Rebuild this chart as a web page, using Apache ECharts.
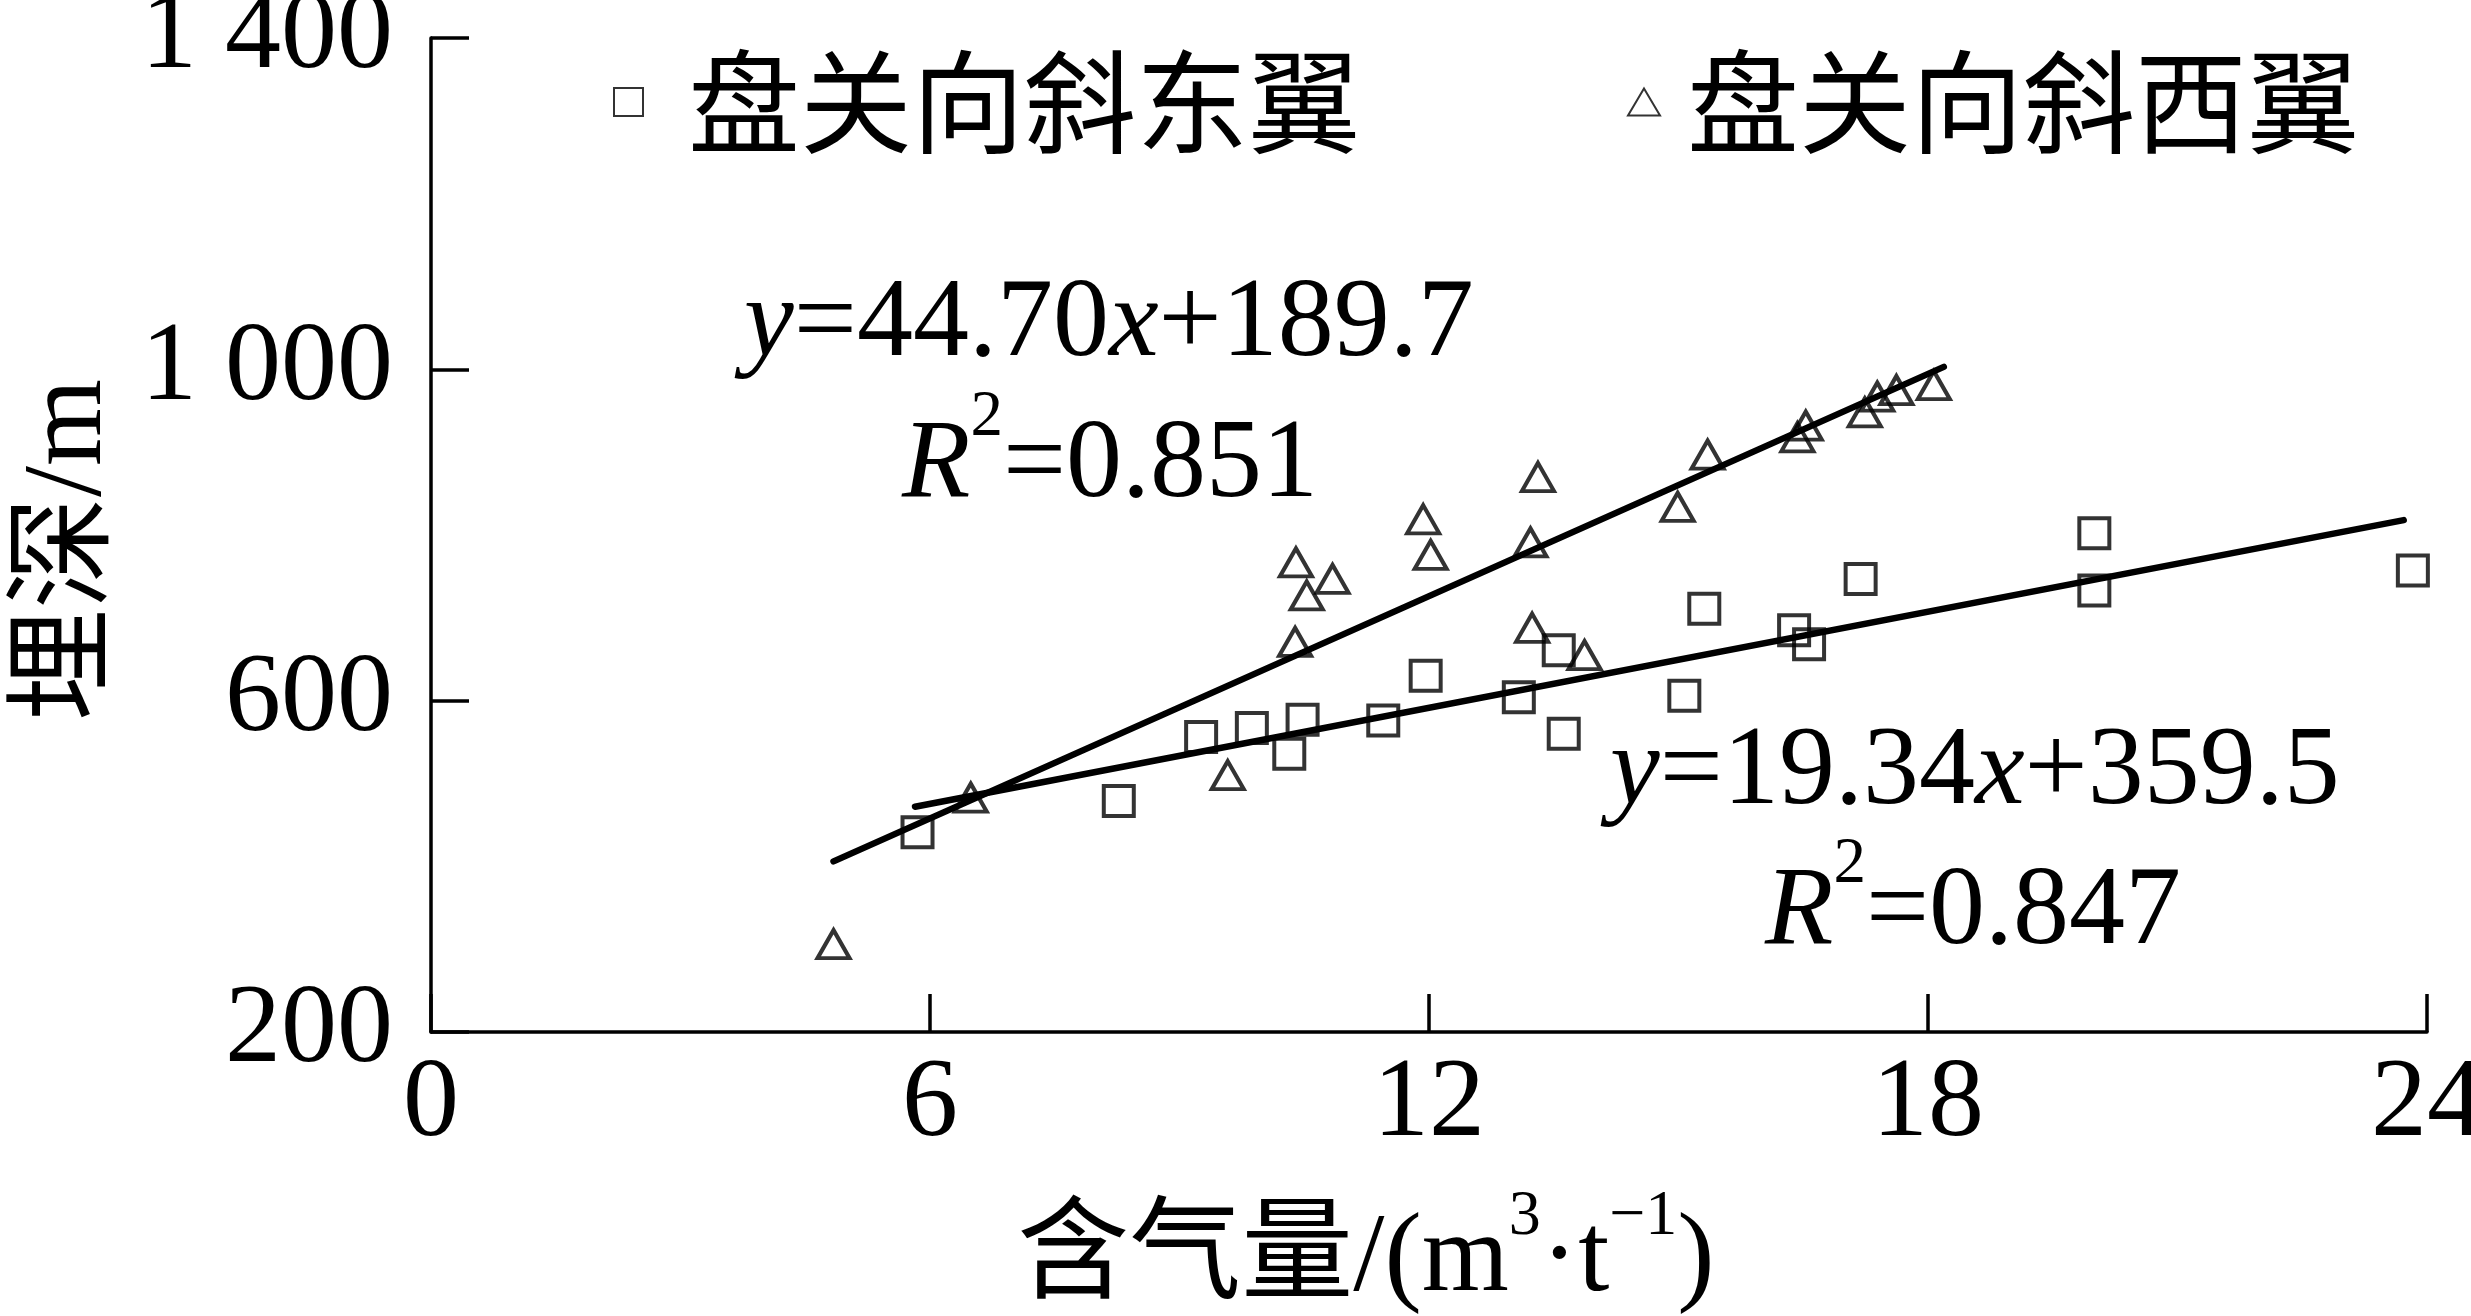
<!DOCTYPE html>
<html><head><meta charset="utf-8">
<script src="https://cdn.jsdelivr.net/npm/echarts@6/dist/echarts.min.js"></script>
<style>html,body{margin:0;padding:0;background:#fff}#c{width:2471px;height:1316px}</style>
</head><body><div id="c"></div>
<script>
// ---- data ----
const seriesNames = ['盘关向斜东翼', '盘关向斜西翼'];
// 盘关向斜东翼 (squares): [含气量, 埋深]
const eastPoints = [
  [5.85, 441], [8.27, 479], [9.26, 556], [9.87, 567], [10.32, 536], [10.48, 577],
  [11.45, 576], [11.96, 630], [13.08, 604], [13.56, 661], [13.62, 560], [15.07, 606],
  [15.31, 711], [16.39, 685], [16.57, 668], [17.19, 747], [20.0, 802], [20.0, 733],
  [23.83, 757]
];
// 盘关向斜西翼 (triangles)
const westPoints = [
  [4.84, 306], [6.49, 483], [9.58, 510], [10.39, 671], [10.40, 767], [10.53, 727],
  [10.84, 747], [11.93, 819], [12.02, 776], [13.22, 791], [13.24, 688], [13.31, 870],
  [13.87, 655], [14.99, 834], [15.35, 897], [16.43, 918], [16.53, 932], [17.24, 948],
  [17.39, 967], [17.62, 975], [18.07, 981]
];
// fitted lines, end points
const eastFitLine = [[5.82, 472], [23.72, 818]];
const westFitLine = [[4.84, 406], [18.19, 1003]];
const xTickValues = [0, 6, 12, 18, 24];
const yTickValues = [200, 600, 1000, 1400];
const eastEquation = ['19.34', '359.5', '0.847'];
const westEquation = ['44.70', '189.7', '0.851'];

// ---- chart ----
const SERIF = '"Liberation Serif", "Noto Sans CJK SC", serif';
const FS = 112;
const chart = echarts.init(document.getElementById('c'), null, {renderer: 'canvas'});

const richEq = {
  i: {fontFamily: SERIF, fontSize: FS, fontStyle: 'italic', color: '#000', lineHeight: FS},
  n: {fontFamily: SERIF, fontSize: FS, color: '#000', lineHeight: FS}
};
const richR2 = {
  i: {fontFamily: SERIF, fontSize: FS, fontStyle: 'italic', color: '#000', lineHeight: 164},
  n: {fontFamily: SERIF, fontSize: FS, color: '#000', lineHeight: 164},
  s: {fontFamily: SERIF, fontSize: 65, color: '#000', verticalAlign: 'top'}
};
function eqText(eq) { return '{i|y}{n|=' + eq[0] + '}{i|x}{n|+' + eq[1] + '}'; }
function r2Text(eq) { return '{i|R}{s|2}{n|=' + eq[2] + '}'; }

const option = {
  backgroundColor: '#fff',
  animation: false,
  grid: {left: 431, right: 44, top: 38, bottom: 284, containLabel: false, outerBoundsMode: 'none'},
  xAxis: {
    type: 'value', min: xTickValues[0], max: xTickValues[xTickValues.length - 1], interval: 6,
    name: '{c|含气量/(m}{s|3}{c|·t}{s|−1}{c|)}',
    nameLocation: 'middle', nameGap: 153,
    nameTextStyle: {
      padding: [0, 126, 0, 0],
      rich: {
        c: {fontFamily: SERIF, fontSize: FS, color: '#000', lineHeight: 152},
        s: {fontFamily: SERIF, fontSize: 64, color: '#000', verticalAlign: 'top'}
      }
    },
    axisLine: {show: true, onZero: false, lineStyle: {color: '#000', width: 3.5}},
    axisTick: {show: true, inside: true, length: 38, lineStyle: {color: '#000', width: 3.5}},
    axisLabel: {fontFamily: SERIF, fontSize: FS, color: '#000', margin: 18},
    splitLine: {show: false}
  },
  yAxis: {
    type: 'value', min: yTickValues[0], max: yTickValues[yTickValues.length - 1], interval: 400,
    name: '埋深/m', nameLocation: 'middle', nameRotate: 90, nameGap: 304,
    nameTextStyle: {fontFamily: SERIF, fontSize: FS, color: '#000', padding: [0, 30, 0, 0]},
    axisLine: {show: true, onZero: false, lineStyle: {color: '#000', width: 3.5}},
    axisTick: {show: true, inside: true, length: 38, lineStyle: {color: '#000', width: 3.5}},
    axisLabel: {
      fontFamily: SERIF, fontSize: FS, color: '#000', margin: 38,
      formatter: function (v) { return v >= 1000 ? Math.floor(v / 1000) + ' ' + String(v % 1000).padStart(3, '0') : String(v); }
    },
    splitLine: {show: false}
  },
  legend: [
    {
      data: [seriesNames[0]], left: 608, top: 41, itemWidth: 29, itemHeight: 28,
      textStyle: {fontFamily: '"Noto Sans CJK SC"', fontSize: FS, color: '#000', padding: [0, 0, 0, 40]}
    },
    {
      data: [seriesNames[1]], left: 1622, top: 41, itemWidth: 32, itemHeight: 27,
      textStyle: {fontFamily: '"Noto Sans CJK SC"', fontSize: FS, color: '#000', padding: [0, 0, 0, 22]}
    }
  ],
  graphic: [
    {type: 'text', x: 744, y: 326, style: {text: eqText(westEquation), rich: richEq, verticalAlign: 'middle', align: 'left'}},
    {type: 'text', x: 902, y: 467, style: {text: r2Text(westEquation), rich: richR2, verticalAlign: 'middle', align: 'left'}},
    {type: 'text', x: 1610, y: 774, style: {text: eqText(eastEquation), rich: richEq, verticalAlign: 'middle', align: 'left'}},
    {type: 'text', x: 1765, y: 914, style: {text: r2Text(eastEquation), rich: richR2, verticalAlign: 'middle', align: 'left'}}
  ],
  series: [
    {
      name: seriesNames[0], type: 'scatter', data: eastPoints, symbol: 'rect', symbolSize: 30, z: 3,
      itemStyle: {color: 'rgba(0,0,0,0)', borderColor: '#000', borderWidth: 4}
    },
    {
      name: seriesNames[1], type: 'scatter', data: westPoints, symbol: 'triangle', symbolSize: [32, 28], z: 3,
      itemStyle: {color: 'rgba(0,0,0,0)', borderColor: '#000', borderWidth: 4}
    },
    {
      name: 'fitEast', type: 'line', data: eastFitLine, showSymbol: false, symbol: 'none', z: 2,
      lineStyle: {color: '#000', width: 6.5, cap: 'round'}
    },
    {
      name: 'fitWest', type: 'line', data: westFitLine, showSymbol: false, symbol: 'none', z: 2,
      lineStyle: {color: '#000', width: 6.5, cap: 'round'}
    }
  ]
};
chart.setOption(option);
</script>
</body></html>
